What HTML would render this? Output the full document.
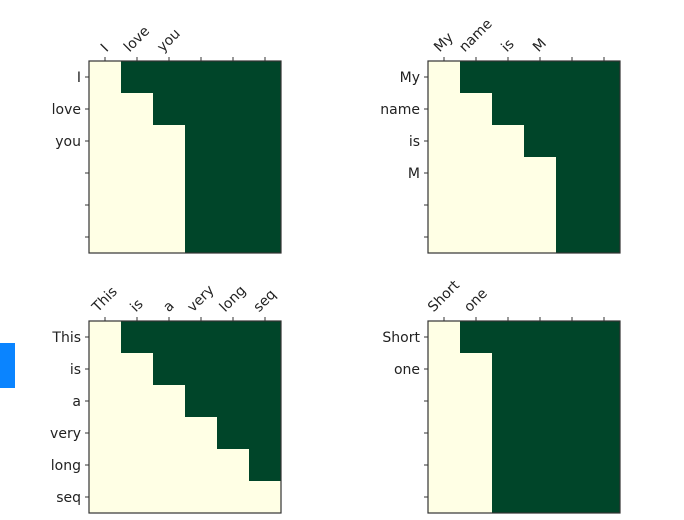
<!DOCTYPE html>
<html><head><meta charset="utf-8"><style>
body{margin:0;background:#fff;width:684px;height:520px;overflow:hidden;position:relative}
svg{position:absolute;left:0;top:0}
text{font-family:"DejaVu Sans","Liberation Sans",sans-serif;font-size:14px;fill:#222}
</style></head><body>
<div style="position:absolute;left:0;top:343px;width:15px;height:45px;background:#0a84ff"></div>
<svg id="chart" width="684" height="520"></svg>
<script>
const sentences = [["I","love","you"],["My","name","is","M"],["This","is","a","very","long","seq"],["Short","one"]];
const maxLen = 6;
const panelX = [89,428,89,428];
const panelY = [61,61,321,321];
const NS="http://www.w3.org/2000/svg";
const svg=document.getElementById('chart');
const cell=32;
function mk(t,a){const e=document.createElementNS(NS,t);for(const k in a)e.setAttribute(k,a[k]);return e;}
sentences.forEach((words,p)=>{
  const g=mk('g',{});
  
  
  svg.appendChild(g);
  const x0=panelX[p],y0=panelY[p],L=words.length;
  const sx=j=>x0+j*cell, sy=i=>y0+i*cell;
  for(let i=0;i<maxLen;i++)for(let j=0;j<maxLen;j++){
    const visible=(j<=i&&j<L);
    const r=mk('rect',{x:sx(j),y:sy(i),width:cell+0.5,height:cell+0.5,fill:visible?'#ffffe5':'#004529'});
    
    
    g.appendChild(r);
  }
  const fr=mk('rect',{x:x0,y:y0,width:cell*maxLen,height:cell*maxLen,fill:'none',stroke:'#333','stroke-width':1.2});
  
  
  g.appendChild(fr);
  for(let k=0;k<maxLen;k++){
    const cx=sx(k)+cell/2, cy=sy(k)+cell/2;
    g.appendChild(mk('line',{x1:cx,y1:y0,x2:cx,y2:y0-4,stroke:'#333'}));
    g.appendChild(mk('line',{x1:x0,y1:cy,x2:x0-4,y2:cy,stroke:'#333'}));
    if(k<L){
      const tx=mk('text',{x:0,y:0,'text-anchor':'middle','dominant-baseline':'central'});
      tx.textContent=words[k];
      
      
      g.appendChild(tx);
      const w=tx.getComputedTextLength(), h=12;
      const c=Math.SQRT1_2;
      const ccy=y0-7-(w*c+h*c)/2;
      tx.setAttribute('x',cx);tx.setAttribute('y',ccy);
      tx.setAttribute('transform',`rotate(-45 ${cx} ${ccy})`);
      const ty=mk('text',{x:x0-8,y:cy+5,'text-anchor':'end'});
      ty.textContent=words[k];
      
      
      g.appendChild(ty);
    }
  }
});
</script>
</body></html>
